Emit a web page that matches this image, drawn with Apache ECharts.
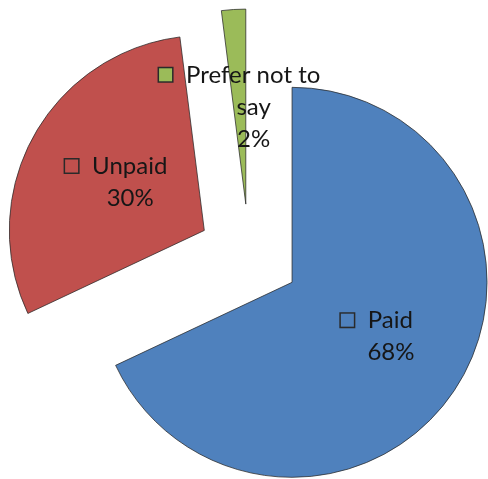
<!DOCTYPE html>
<html>
<head>
<meta charset="utf-8">
<script src="https://cdn.jsdelivr.net/npm/echarts@6/dist/echarts.min.js"></script>
<style>
  html, body { margin: 0; padding: 0; background: #fff; }
  #chart { width: 488px; height: 479px; }
</style>
</head>
<body>
<div id="chart"></div>
<script>
// data
var categories = ['Paid', 'Unpaid', 'Prefer not to say'];
var labelText = ['Paid', 'Unpaid', 'Prefer not to\nsay'];
var values = [68, 30, 2];
var colors = ['#4F81BD', '#C0504D', '#9BBB59'];

var chart = echarts.init(document.getElementById('chart'));

// legend key square + text, later lines pushed right so the text lines stay centred on each other
function labelStr(idx, percent) {
    var lines = labelText[idx].split('\n');
    var s = '{sq' + idx + '|}{gap|}' + lines[0];
    for (var k = 1; k < lines.length; k++) s += '\n{pad|}' + lines[k];
    return s + '\n{pad|}' + Math.round(percent) + '%';
}

var richStyles = {
    gap: {width: 14},
    pad: {width: 28}
};
for (var c = 0; c < colors.length; c++) {
    richStyles['sq' + c] = {width: 13, height: 13, backgroundColor: colors[c], borderColor: '#2a2a2a', borderWidth: 1.5};
}

var pieData = [];
for (var i = 0; i < categories.length; i++) {
    pieData.push({
        name: categories[i],
        value: values[i],
        selected: true,
        itemStyle: {color: colors[i]}
    });
}

var labelFont = {fontFamily: 'Lato', fontSize: 24, lineHeight: 32, color: '#161616'};

var option = {
    animation: false,
    series: [{
        type: 'pie',
        center: [249, 255],
        radius: 195,
        startAngle: 90,
        clockwise: true,
        selectedMode: 'multiple',
        selectedOffset: 51,
        avoidLabelOverlap: false,
        minShowLabelAngle: 0,
        itemStyle: {borderColor: 'rgba(40,40,40,0.75)', borderWidth: 1},
        emphasis: {disabled: true},
        label: {
            show: true,
            position: 'inside',
            fontFamily: labelFont.fontFamily,
            fontSize: labelFont.fontSize,
            lineHeight: labelFont.lineHeight,
            color: labelFont.color,
            align: 'center',
            formatter: function (p) { return labelStr(p.dataIndex, p.percent); },
            rich: richStyles
        },
        labelLine: {show: false},
        data: pieData
    }]
};

chart.setOption(option);

// the thin slice's inside label gets dropped by the pie layout; put it back as text at the same spot
var seriesData = chart.getModel().getSeriesByIndex(0).getData();
var extra = [];
seriesData.each(function (idx) {
    var el = seriesData.getItemGraphicEl(idx);
    var txt = el && el.getTextContent();
    if (txt && !txt.ignore) return;
    var lay = seriesData.getItemLayout(idx);
    var mid = (lay.startAngle + lay.endAngle) / 2;
    var dist = (lay.r + (lay.r0 || 0)) / 2 + option.series[0].selectedOffset;
    var total = values.reduce(function (a, b) { return a + b; }, 0);
    extra.push({
        type: 'text',
        silent: true,
        z: 100,
        x: lay.cx + Math.cos(mid) * dist,
        y: lay.cy + Math.sin(mid) * dist,
        style: {
            legacy: false,
            text: labelStr(idx, values[idx] / total * 100),
            font: labelFont.fontSize + 'px ' + labelFont.fontFamily,
            lineHeight: labelFont.lineHeight,
            fill: labelFont.color,
            align: 'center',
            verticalAlign: 'middle',
            rich: richStyles
        }
    });
});
if (extra.length) chart.setOption({graphic: extra});
</script>
</body>
</html>
